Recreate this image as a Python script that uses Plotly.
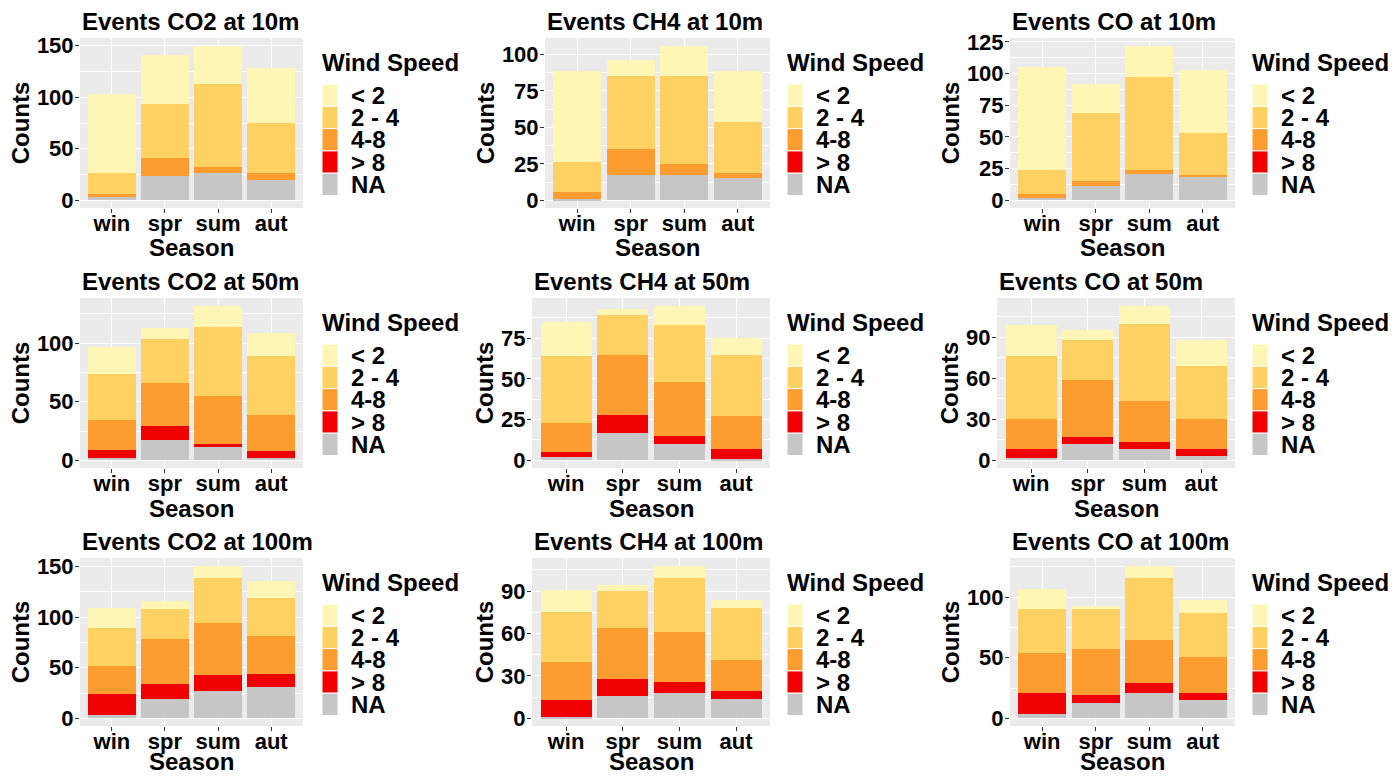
import plotly.graph_objects as go

# ---------------- data ----------------
seasons = ["win", "spr", "sum", "aut"]
wind_classes = ["NA", "> 8", "4-8", "2 - 4", "< 2"]  # bottom -> top of the stack
legend_order = ["< 2", "2 - 4", "4-8", "> 8", "NA"]
legend_title = "Wind Speed"
x_title = "Season"
y_title = "Counts"

panel_titles = [
    "Events CO2 at 10m", "Events CH4 at 10m", "Events CO at 10m",
    "Events CO2 at 50m", "Events CH4 at 50m", "Events CO at 50m",
    "Events CO2 at 100m", "Events CH4 at 100m", "Events CO at 100m",
]

# counts per wind class, seasons in order win, spr, sum, aut
co2_10m = {"NA": [3, 24, 26, 20], "> 8": [0, 0, 0, 0], "4-8": [3, 17, 6, 6],
           "2 - 4": [20, 52, 81, 49], "< 2": [77, 48, 37, 53]}
ch4_10m = {"NA": [1, 17, 17, 15], "> 8": [0, 0, 0, 0], "4-8": [5, 18, 8, 4],
           "2 - 4": [20, 50, 60, 35], "< 2": [63, 11, 21, 35]}
co_10m = {"NA": [2, 11, 21, 18], "> 8": [0, 0, 0, 0], "4-8": [3, 4, 3, 2],
          "2 - 4": [19, 54, 73, 33], "< 2": [81, 23, 25, 50]}
co2_50m = {"NA": [2, 17, 11, 2], "> 8": [7, 12, 3, 6], "4-8": [25, 37, 41, 31],
           "2 - 4": [40, 38, 59, 50], "< 2": [23, 9, 18, 20]}
ch4_50m = {"NA": [2, 17, 10, 1], "> 8": [3, 11, 5, 6], "4-8": [18, 37, 33, 20],
           "2 - 4": [41, 24, 35, 38], "< 2": [21, 4, 12, 10]}
co_50m = {"NA": [2, 12, 8, 3], "> 8": [6, 5, 5, 5], "4-8": [22, 42, 30, 22],
          "2 - 4": [46, 29, 57, 39], "< 2": [23, 7, 13, 19]}
co2_100m = {"NA": [3, 19, 27, 31], "> 8": [21, 15, 16, 13], "4-8": [28, 44, 51, 37],
            "2 - 4": [37, 30, 45, 38], "< 2": [20, 8, 12, 17]}
ch4_100m = {"NA": [1, 16, 18, 14], "> 8": [12, 12, 8, 5], "4-8": [27, 36, 35, 22],
            "2 - 4": [35, 26, 38, 37], "< 2": [16, 4, 9, 6]}
co_100m = {"NA": [4, 13, 21, 15], "> 8": [17, 6, 8, 6], "4-8": [33, 38, 36, 30],
           "2 - 4": [36, 33, 51, 36], "< 2": [17, 3, 10, 11]}

panels = [co2_10m, ch4_10m, co_10m, co2_50m, ch4_50m, co_50m, co2_100m, ch4_100m, co_100m]
y_tick_steps = [50, 25, 25, 50, 25, 30, 50, 30, 50]

# ---------------- style ----------------
colors = {"< 2": "#FFF6B6", "2 - 4": "#FFD163", "4-8": "#FD9D30",
          "> 8": "#F00000", "NA": "#C6C6C6"}
FONT = "Liberation Sans"
W, H = 1394, 776

col_left = [[80, 545, 1010], [80, 532, 997], [80, 532, 1010]]
col_right = [303, 770, 1235]
row_top = [38, 298, 558]
row_bot = [208, 468, 726]
legend_left = [322, 787, 1252]
KEY_W, KEY_H = 16, 22.3


def py(p):
    """pixel row (from top) -> paper y"""
    return 1 - p / H


def bold(size):
    return dict(family=FONT, size=size, color="black", weight="bold")


fig = go.Figure()
layout = dict(
    width=W, height=H, margin=dict(l=0, r=0, t=0, b=0, autoexpand=False),
    paper_bgcolor="white", plot_bgcolor="#EBEBEB",
    barmode="stack", bargap=0.1, showlegend=False,
    font=dict(family=FONT, color="black"),
    annotations=[], shapes=[],
)

for idx, data in enumerate(panels):
    r, c = divmod(idx, 3)
    k = idx + 1
    xs = "" if k == 1 else str(k)
    for cls in wind_classes:
        fig.add_trace(go.Bar(
            x=seasons, y=data[cls], name=cls,
            marker=dict(color=colors[cls], line=dict(width=0)),
            xaxis=f"x{xs}", yaxis=f"y{xs}", showlegend=False,
            hovertemplate="%{x}: %{y}<extra>" + cls + "</extra>",
        ))
    totals = [sum(data[cls][i] for cls in wind_classes) for i in range(len(seasons))]
    ymax = max(totals)
    step = y_tick_steps[idx]
    ticks = list(range(0, int(ymax * 1.05) + 1, step))
    layout[f"xaxis{xs}"] = dict(
        domain=[col_left[r][c] / W, col_right[c] / W], anchor=f"y{xs}",
        type="category", range=[-0.6, 3.6], automargin=False,
        showgrid=True, gridcolor="white", gridwidth=1.1,
        ticks="outside", ticklen=4, tickcolor="#333333", tickwidth=1,
        ticklabelstandoff=-8,
        tickfont=bold(22),
        zeroline=False, showline=False, fixedrange=True,
    )
    layout[f"yaxis{xs}"] = dict(
        domain=[py(row_bot[r]), py(row_top[r])], anchor=f"x{xs}",
        range=[-0.05 * ymax, 1.05 * ymax], automargin=False,
        tickvals=ticks, showgrid=True, gridcolor="white", gridwidth=1.1,
        minor=dict(tickvals=[t + step / 2 for t in ticks], showgrid=True,
                   gridcolor="white", gridwidth=0.5),
        ticks="outside", ticklen=4, tickcolor="#333333", tickwidth=1,
        ticklabelstandoff=-3,
        tickfont=bold(22),
        title=dict(text=y_title, standoff=0, font=bold(24)),
        zeroline=False, showline=False, fixedrange=True,
    )
    # x-axis title placed under the tick labels (kept fully inside the page)
    shift = min(40, H - 15 - row_bot[r])
    layout["annotations"].append(dict(
        text=x_title, xref=f"x{xs} domain", yref=f"y{xs} domain",
        x=0.5, y=0, xanchor="center", yanchor="middle", yshift=-shift,
        showarrow=False, font=bold(24),
    ))
    # panel title (left-aligned, ggplot style)
    layout["annotations"].append(dict(
        text=panel_titles[idx], xref=f"x{xs} domain", yref=f"y{xs} domain",
        x=0, y=1, xanchor="left", yanchor="bottom", yshift=1, showarrow=False,
        font=bold(24),
    ))
    # legend drawn ggplot-style: title, big square keys, labels
    lx = legend_left[c]
    key_top = row_top[r] + 46
    layout["annotations"].append(dict(
        text=legend_title, xref="paper", yref="paper",
        x=(lx - 2) / W, y=py(key_top - 6), xanchor="left", yanchor="bottom",
        showarrow=False, font=bold(24),
    ))
    for j, cls in enumerate(legend_order):
        y0 = key_top + j * KEY_H
        layout["shapes"].append(dict(
            type="rect", xref="paper", yref="paper", layer="above",
            x0=lx / W, x1=(lx + KEY_W) / W,
            y0=py(y0 + KEY_H), y1=py(y0),
            fillcolor=colors[cls], line=dict(color="white", width=1),
        ))
        layout["annotations"].append(dict(
            text=cls, xref="paper", yref="paper",
            x=(lx + KEY_W + 11) / W, y=py(y0 + KEY_H / 2),
            xanchor="left", yanchor="middle", showarrow=False, font=bold(24),
        ))

fig.update_layout(**layout)
fig.write_html(
    "out.html",
    config={"displayModeBar": False},
    post_script="document.body.style.margin='0px';document.body.style.overflow='hidden';",
)
